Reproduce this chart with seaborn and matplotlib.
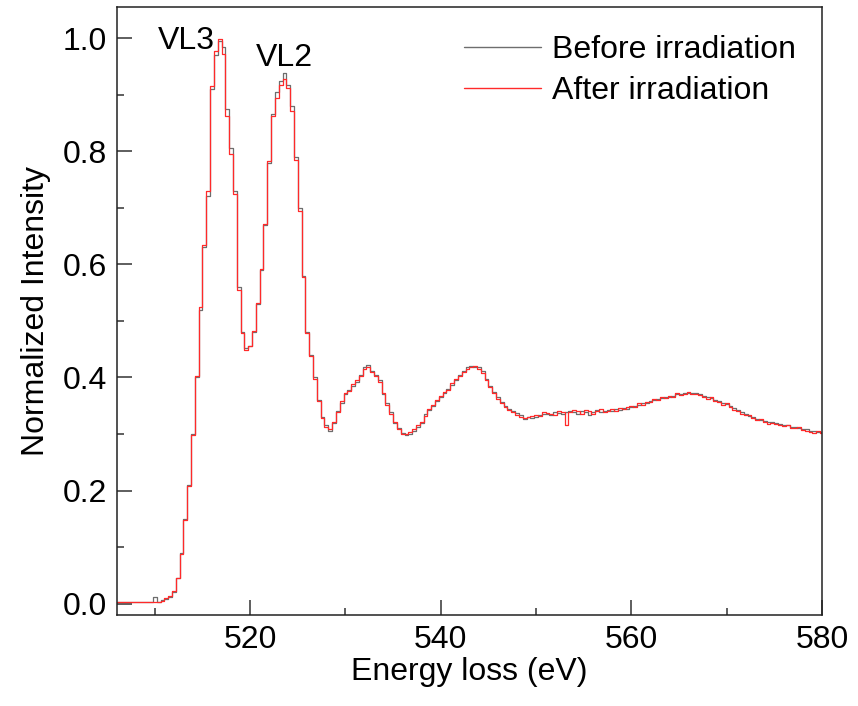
import numpy as np
import pandas as pd
import matplotlib
matplotlib.use("Agg")
import matplotlib.pyplot as plt
import seaborn as sns
from matplotlib.ticker import MultipleLocator

# Energy grid start and step (eV)
e_start = 506.0
e_step = 0.4

before = [
    0.003, 0.003, 0.003, 0.003, 0.003, 0.003, 0.003, 0.003, 0.003, 0.003, 0.012, 0.003,
    0.006, 0.008, 0.012, 0.020, 0.045, 0.090, 0.150, 0.210, 0.300, 0.400, 0.520, 0.630,
    0.720, 0.910, 0.970, 0.995, 0.985, 0.875, 0.805, 0.730, 0.560, 0.480, 0.452, 0.455,
    0.480, 0.530, 0.590, 0.670, 0.780, 0.865, 0.905, 0.925, 0.938, 0.918, 0.880, 0.790,
    0.700, 0.580, 0.480, 0.440, 0.400, 0.360, 0.330, 0.315, 0.305, 0.320, 0.340, 0.355,
    0.370, 0.378, 0.385, 0.392, 0.405, 0.418, 0.422, 0.412, 0.405, 0.395, 0.370, 0.355,
    0.338, 0.320, 0.310, 0.302, 0.298, 0.300, 0.305, 0.312, 0.320, 0.335, 0.343, 0.350,
    0.358, 0.366, 0.372, 0.380, 0.387, 0.395, 0.405, 0.412, 0.418, 0.420, 0.418, 0.418,
    0.412, 0.398, 0.385, 0.375, 0.365, 0.357, 0.350, 0.345, 0.340, 0.337, 0.334, 0.326,
    0.330, 0.329, 0.330, 0.334, 0.336, 0.335, 0.334, 0.338, 0.337, 0.336, 0.339, 0.340,
    0.338, 0.336, 0.340, 0.339, 0.334, 0.339, 0.342, 0.338, 0.340, 0.343, 0.341, 0.344,
    0.342, 0.346, 0.345, 0.348, 0.350, 0.352, 0.355, 0.354, 0.358, 0.360, 0.362, 0.364,
    0.366, 0.366, 0.368, 0.370, 0.371, 0.372, 0.373, 0.373, 0.372, 0.371, 0.368, 0.366,
    0.364, 0.360, 0.358, 0.355, 0.353, 0.350, 0.346, 0.342, 0.338, 0.335, 0.332, 0.330,
    0.327, 0.325, 0.323, 0.322, 0.321, 0.319, 0.318, 0.316, 0.315, 0.313, 0.312, 0.311,
    0.309, 0.308, 0.306, 0.305, 0.304, 0.303,
]

after = [
    0.003, 0.003, 0.003, 0.003, 0.003, 0.003, 0.003, 0.003, 0.003, 0.003, 0.003, 0.003,
    0.005, 0.010, 0.014, 0.022, 0.046, 0.088, 0.148, 0.208, 0.298, 0.402, 0.525, 0.635,
    0.730, 0.915, 0.978, 0.998, 0.972, 0.862, 0.795, 0.725, 0.555, 0.478, 0.448, 0.456,
    0.482, 0.532, 0.592, 0.672, 0.782, 0.862, 0.895, 0.918, 0.928, 0.912, 0.872, 0.785,
    0.695, 0.578, 0.478, 0.438, 0.398, 0.358, 0.328, 0.312, 0.308, 0.322, 0.338, 0.358,
    0.372, 0.376, 0.388, 0.395, 0.402, 0.415, 0.418, 0.410, 0.402, 0.392, 0.372, 0.352,
    0.336, 0.322, 0.308, 0.300, 0.300, 0.303, 0.308, 0.315, 0.322, 0.332, 0.345, 0.352,
    0.360, 0.368, 0.375, 0.378, 0.390, 0.398, 0.402, 0.410, 0.415, 0.418, 0.420, 0.415,
    0.408, 0.395, 0.383, 0.372, 0.362, 0.355, 0.348, 0.342, 0.338, 0.334, 0.330, 0.328,
    0.330, 0.332, 0.334, 0.332, 0.338, 0.337, 0.336, 0.334, 0.340, 0.338, 0.315, 0.338,
    0.342, 0.340, 0.336, 0.342, 0.340, 0.336, 0.340, 0.344, 0.338, 0.341, 0.345, 0.340,
    0.346, 0.344, 0.348, 0.350, 0.347, 0.355, 0.352, 0.357, 0.356, 0.362, 0.360, 0.366,
    0.364, 0.368, 0.366, 0.372, 0.369, 0.371, 0.374, 0.371, 0.370, 0.369, 0.366, 0.362,
    0.365, 0.358, 0.356, 0.352, 0.355, 0.348, 0.343, 0.340, 0.336, 0.333, 0.334, 0.328,
    0.325, 0.327, 0.321, 0.318, 0.320, 0.317, 0.316, 0.314, 0.316, 0.311, 0.310, 0.312,
    0.307, 0.306, 0.304, 0.302, 0.305, 0.301,
]

series_names = ["Before irradiation", "After irradiation"]
series_colors = ["#6e6e6e", "#ff2a2a"]
peak_labels = ["VL3", "VL2"]
x_ticks = [520, 540, 560, 580]
y_ticks = [0.0, 0.2, 0.4, 0.6, 0.8, 1.0]

frames = []
for name, vals in zip(series_names, [before, after]):
    e = e_start + e_step * np.arange(len(vals))
    frames.append(pd.DataFrame({"Energy": e, "Intensity": vals, "Series": name}))
df = pd.concat(frames, ignore_index=True)

sns.set_style("ticks")
plt.rcParams["font.family"] = ["Liberation Sans", "DejaVu Sans"]
plt.rcParams["text.color"] = "black"
plt.rcParams["axes.labelcolor"] = "black"
plt.rcParams["xtick.color"] = "black"
plt.rcParams["ytick.color"] = "black"

FS = 23

fig = plt.figure(figsize=(8.58, 7.06), dpi=100)
ax = fig.add_axes([0.136, 0.129, 0.822, 0.861])

sns.lineplot(data=df, x="Energy", y="Intensity", hue="Series",
             hue_order=series_names, palette=series_colors,
             drawstyle="steps-mid", linewidth=0.9, ax=ax, legend=True)

ax.set_xlim(506, 580)
ax.set_ylim(-0.02, 1.055)
ax.set_xticks(x_ticks)
ax.set_yticks(y_ticks)
ax.set_yticklabels([f"{v:.1f}" for v in y_ticks])
ax.xaxis.set_minor_locator(MultipleLocator(10))
ax.yaxis.set_minor_locator(MultipleLocator(0.1))
ax.tick_params(axis="both", which="major", direction="in", length=11, width=1.1,
               labelsize=FS, color="#333333", labelcolor="black", pad=7)
ax.tick_params(axis="both", which="minor", direction="in", length=5, width=1.1,
               color="#333333")
for s in ax.spines.values():
    s.set_visible(True)
    s.set_linewidth(1.1)
    s.set_color("#222222")

ax.set_xlabel("Energy loss (eV)", fontsize=FS, labelpad=2)
ax.set_ylabel("Normalized Intensity", fontsize=FS, labelpad=8)

ax.text(513.3, 0.995, peak_labels[0], fontsize=FS, ha="center", va="center")
ax.text(523.6, 0.965, peak_labels[1], fontsize=FS, ha="center", va="center")

leg = ax.legend(loc="upper right", bbox_to_anchor=(0.995, 0.99), frameon=False,
                fontsize=FS, handlelength=2.4, handletextpad=0.35,
                labelspacing=0.32, borderaxespad=0.3)
for line in leg.get_lines():
    line.set_linewidth(1.0)

fig.savefig("out.png", dpi=100)
